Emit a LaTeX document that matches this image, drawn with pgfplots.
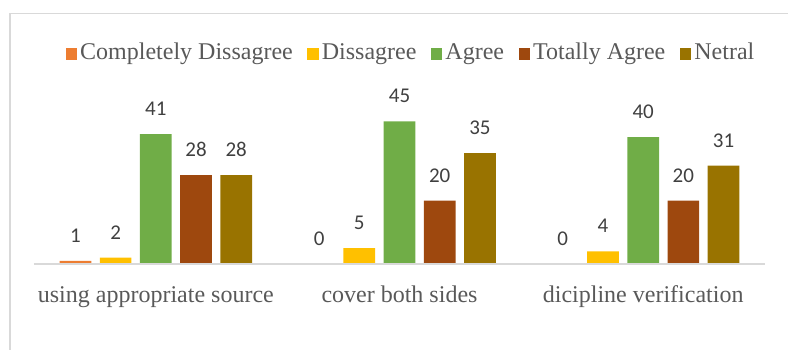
\documentclass[border=0pt]{standalone}
\usepackage{pgfplots}
\pgfplotsset{compat=1.18}
\usepackage{fontspec}
\setmainfont{Liberation Serif}
\newfontfamily\labelfont{Carlito}
\definecolor{cA}{HTML}{ED7D31}
\definecolor{cB}{HTML}{FFC000}
\definecolor{cC}{HTML}{70AD47}
\definecolor{cD}{HTML}{9E480E}
\definecolor{cE}{HTML}{997300}
\definecolor{txt}{HTML}{595959}
\definecolor{lbl}{HTML}{404040}
\definecolor{gridc}{HTML}{D9D9D9}
\pgfplotsset{sqlegend/.style={legend image code/.code={\fill[##1] (0pt,-5.75pt) rectangle (11.5pt,5.75pt);}}}
\begin{document}
\begin{tikzpicture}
\path[use as bounding box] (0,0) rectangle (788pt,349pt);
\draw[gridc, line width=1.3pt] (10pt,-5pt) -- (10pt,335.5pt) -- (795pt,335.5pt);
\begin{axis}[
  at={(34pt,85pt)}, anchor=south west,
  scale only axis, width=731pt, height=158.5pt,
  ybar=8.5pt, bar width=31.7pt,
  xmin=-0.5, xmax=2.5, ymin=0, ymax=50,
  xtick={0,1,2},
  xticklabels={using appropriate source, cover both sides, dicipline verification},
  axis x line=bottom, axis y line=none,
  axis on top,
  x axis line style={-, draw=gridc, line width=1.5pt},
  major tick length=0pt,
  /pgf/number format/assume math mode=true,
  xticklabel style={font=\fontsize{24}{28}\selectfont, color=txt, anchor=base, yshift=-38pt, inner sep=0pt},
  nodes near coords={\pgfmathprintnumber[assume math mode=true]{\pgfplotspointmeta}},
  every node near coord/.append style={font=\labelfont\fontsize{21}{24}\selectfont, color=lbl, anchor=base, yshift=18.5pt, inner sep=0pt},
  legend columns=5,
  legend cell align=left,
  legend style={draw=none, fill=none, inner sep=0pt,
    at={(0.5144,1.325)}, anchor=center,
    font=\fontsize{24}{28}\selectfont, text=txt,
    nodes={inner sep=0pt, text height=17pt, text depth=5pt},
    /tikz/every odd column/.append style={column sep=3pt},
    /tikz/every even column/.append style={column sep=14.5pt}},
]
\addplot[fill=cA, draw=none, sqlegend] coordinates {(0,1) (1,0) (2,0)};
\addplot[fill=cB, draw=none, sqlegend] coordinates {(0,2) (1,5) (2,4)};
\addplot[fill=cC, draw=none, sqlegend] coordinates {(0,41) (1,45) (2,40)};
\addplot[fill=cD, draw=none, sqlegend] coordinates {(0,28) (1,20) (2,20)};
\addplot[fill=cE, draw=none, sqlegend] coordinates {(0,28) (1,35) (2,31)};
\legend{Completely Dissagree, Dissagree, Agree, Totally Agree, Netral}
\end{axis}
\end{tikzpicture}
\end{document}
